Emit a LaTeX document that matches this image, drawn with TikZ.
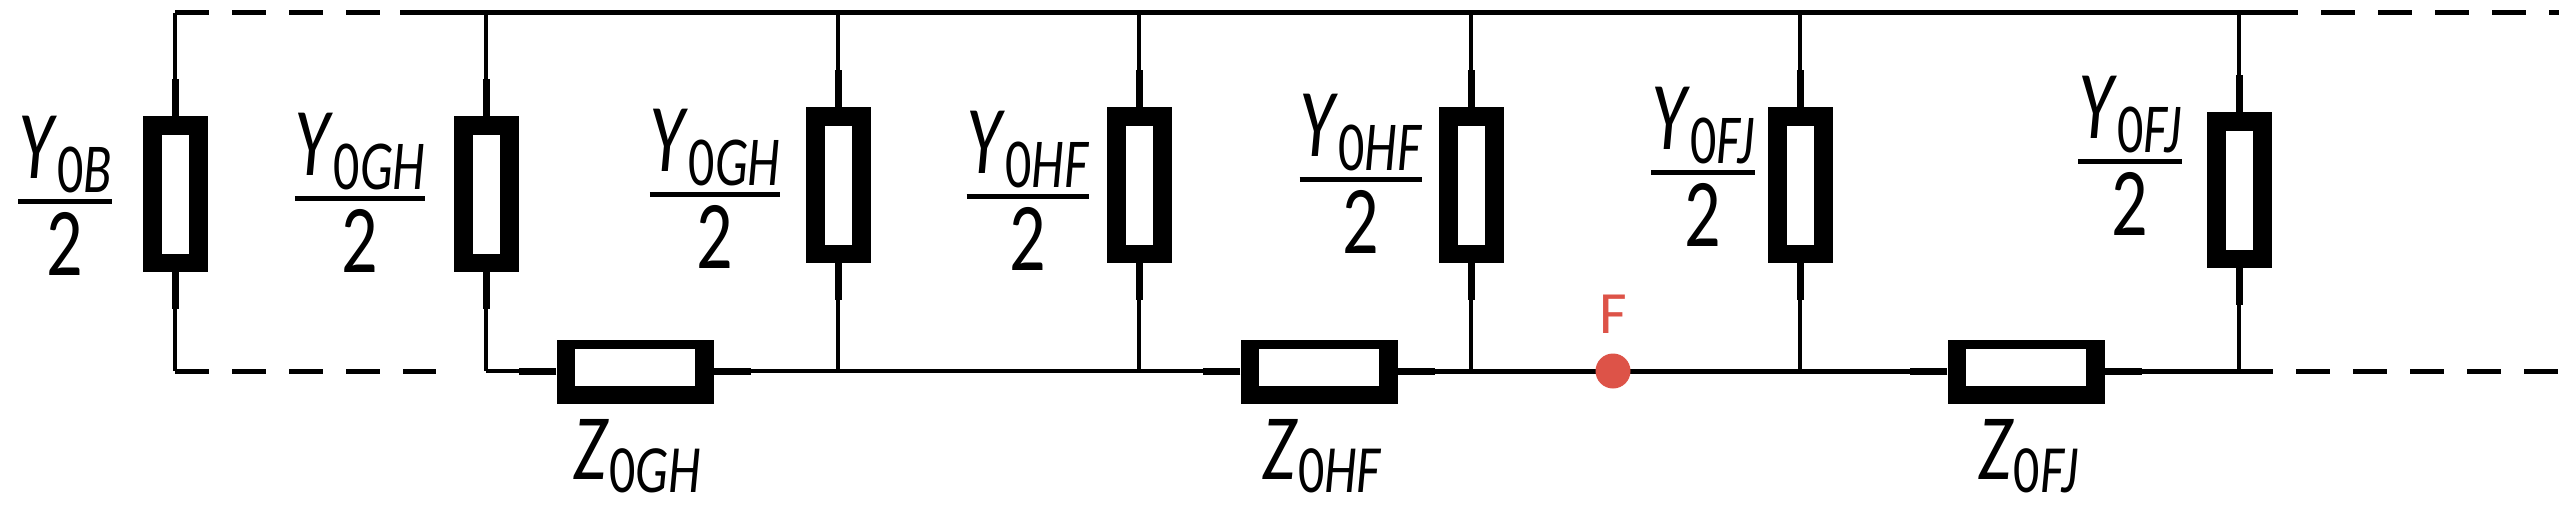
\documentclass[tikz,border=0pt]{standalone}
\usepackage{fontspec}
\setmainfont{Carlito}
\newcommand{\yl}[1]{\textit{Y}\raisebox{-0.3ex}{\fontsize{52}{52}\selectfont 0\textit{#1}}}
\newcommand{\zl}[1]{\scalebox{1}[1.3]{\textit{Z}\raisebox{-0.3ex}{\fontsize{52}{52}\selectfont 0\textit{#1}}}}
\newcommand{\frlabel}[1]{\setlength{\arrayrulewidth}{5pt}\begin{tabular}{@{}c@{}}\scalebox{1}[1.35]{\yl{#1}}\\[-2pt]\hline\rule{0pt}{72pt}\scalebox{1}[1.35]{2}\end{tabular}}
\begin{document}
\begin{tikzpicture}[x=1pt,y=-1pt,
  wire/.style={line width=3.5pt},
  stub/.style={line width=7pt},
  dsh/.style={line width=5pt,dash pattern=on 34pt off 23pt},
  vb/.style={fill=black,minimum width=65pt,minimum height=156pt,inner sep=0pt,draw=none},
  hb/.style={fill=black,minimum width=157pt,minimum height=64pt,inner sep=0pt,draw=none},
  vin/.style={fill=white,minimum width=27pt,minimum height=119pt,inner sep=0pt,draw=none},
  hin/.style={fill=white,minimum width=120pt,minimum height=37pt,inner sep=0pt,draw=none},
  lab/.style={font=\fontsize{72}{74}\selectfont,inner sep=0pt,align=center}]
\useasboundingbox (0,0) rectangle (2559,512);
% top rail
\coordinate (tl) at (175,12.5);
\coordinate (td) at (400,12.5);
\coordinate (tr) at (2264,12.5);
\coordinate (te) at (2559,12.5);
\draw[dsh] (tl) -- (td);
\draw[wire,line width=5pt] (td) -- (tr);
\draw[dsh] (tr) -- (te);
% vertical branches
\foreach \n/\x/\yc in {b1/175/194, b2/486/194, b3/838/185, b4/1139/185, b5/1471/185, b6/1800/185, b7/2239/190}{
  \node[vb] (\n) at (\x,\yc) {};
  \node[vin] (\n i) at (\x,\yc) {};
  \coordinate (\n t) at (\x,12.5);
  \coordinate (\n s) at (\x,371);
  \draw[stub] (\n.north) -- ++(0,-37);
  \draw[stub] (\n.south) -- ++(0,37);
  \draw[wire] (\n.north) ++(0,-37) -- (\n t);
  \draw[wire] (\n.south) ++(0,37) -- (\n s);
}
% series elements
\foreach \n/\x in {z1/635, z2/1319, z3/2026}{
  \node[hb] (\n) at (\x,372) {};
  \node[hin] (\n i) at (\x,367.5) {};
  \draw[stub] (\n.west |- 0,371) -- ++(-37,0) coordinate (\n l);
  \draw[stub] (\n.east |- 0,371) -- ++(37,0) coordinate (\n r);
}
\coordinate (bd) at (436,371);
\draw[dsh] (b1s) -- (bd);
\draw[wire] (b2s) -- (z1l);
\draw[wire] (z1r) -- (z2l);
\draw[wire,line width=5pt] (z2r) -- (z3l);
\draw[wire,line width=5pt] (z3r) -- (b7s);
\coordinate (be) at (2559,371);
\draw[dsh] (b7s) -- (be);
% fault
\definecolor{fred}{RGB}{221,83,72}
\node[circle,fill=fred,minimum size=35pt,inner sep=0pt] (F) at (1613,371) {};
\node[text=fred,font=\fontsize{60}{60}\selectfont,inner sep=0pt] (Fl) at (1613,314) {F};
% labels
\node[lab] (l1) at (65,207) {\frlabel{B}};
\node[lab] (l2) at (360,204) {\frlabel{GH}};
\node[lab] (l3) at (715,200) {\frlabel{GH}};
\node[lab] (l4) at (1028,202) {\frlabel{HF}};
\node[lab] (l5) at (1361,185) {\frlabel{HF}};
\node[lab] (l6) at (1703,178) {\frlabel{FJ}};
\node[lab] (l7) at (2130,167) {\frlabel{FJ}};
\node[lab] (zt1) at (637,456) {\zl{GH}};
\node[lab] (zt2) at (1322,456) {\zl{HF}};
\node[lab] (zt3) at (2028,456) {\zl{FJ}};
\end{tikzpicture}
\end{document}
